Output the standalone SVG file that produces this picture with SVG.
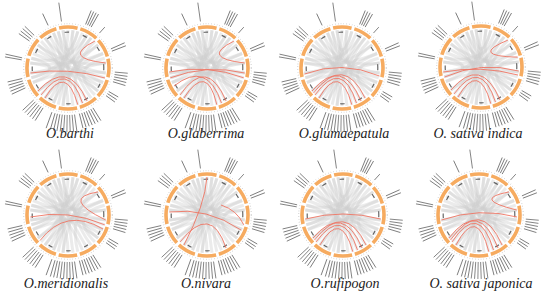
<svg xmlns="http://www.w3.org/2000/svg" xmlns:xlink="http://www.w3.org/1999/xlink" width="550" height="299" viewBox="0 0 550 299">
<style>
.ring{fill:none;stroke:#f6ab60;stroke-width:3.6;stroke-dasharray:18.61 2.86}
.tick{fill:none;stroke:#b0b0b0;stroke-width:1.2;stroke-dasharray:0.4 2.4}
.chr{fill:none;stroke:#333;stroke-opacity:0.75;stroke-width:1.2;stroke-dasharray:4.5 14.09}
.gc path{fill:none;stroke:#cfcfcf;stroke-width:3;stroke-opacity:0.42}
.lb line{stroke:#3c3c3c;stroke-width:0.8;stroke-opacity:0.75}
.red{fill:none;stroke:#ef7563;stroke-width:0.9}
.title{font-family:"Liberation Serif","Times New Roman",serif;font-style:italic;font-size:14px;fill:#222;text-anchor:middle}
</style>
<defs>
<g id="base">
<g class="gc">
<path d="M-35.1,-14.5Q0,0 36.7,9.8"/><path d="M-30.1,-23.1Q0,0 14.5,35.1"/><path d="M-23.1,-30.1Q0,0 -5,37.7"/>
<path d="M-14.5,-35.1Q0,0 -14.5,35.1"/><path d="M-5,-37.7Q0,0 5,37.7"/><path d="M5,-37.7Q0,0 -23.1,30.1"/>
<path d="M14.5,-35.1Q0,0 -35.1,14.5"/><path d="M23.1,-30.1Q0,0 -30.1,23.1"/><path d="M30.1,-23.1Q0,0 -37.7,5"/>
<path d="M35.1,-14.5Q0,0 -37.7,-5"/><path d="M37.7,-5Q0,0 -30.1,-23.1"/><path d="M37.7,5Q0,0 -23.1,-30.1"/>
<path d="M35.1,14.5Q0,0 -14.5,-35.1"/><path d="M30.1,23.1Q0,0 -5,-37.7"/><path d="M23.1,30.1Q0,0 5,-37.7"/>
<path d="M-5,37.7Q0,0 23.1,-30.1"/><path d="M-14.5,35.1Q0,0 30.1,-23.1"/><path d="M-23.1,30.1Q0,0 35.1,-14.5"/>
<path d="M-30.1,23.1Q0,0 37.7,-5"/><path d="M-35.1,14.5Q0,0 37.7,5"/><path d="M-37.7,5Q0,0 35.1,14.5"/>
<path d="M-37.7,-5Q0,0 30.1,23.1"/><path d="M-9.8,-36.7Q0,0 -9.8,36.7"/><path d="M0,-38Q0,0 -26.9,26.9"/>
<path d="M9.8,-36.7Q0,0 -36.7,9.8"/><path d="M19,-32.9Q0,0 -36.7,-9.8"/><path d="M-19,-32.9Q0,0 19,32.9"/>
<path d="M-32.9,-19Q0,0 32.9,19"/><path d="M-26.9,-26.9Q0,0 0,38"/><path d="M26.9,-26.9Q0,0 9.8,36.7"/>
<path d="M36.7,-9.8Q0,0 26.9,26.9"/><path d="M-9.8,-36.7Q0,0 9.8,-36.7"/><path d="M-36.7,9.8Q0,0 -36.7,-9.8"/>
<path d="M-19,32.9Q0,0 19,-32.9"/>
</g>
<circle class="tick" r="44.3"/>
<circle class="ring" r="41" transform="rotate(-13)"/>
<circle class="chr" r="35.8" transform="rotate(-3.6)"/>
<g class="lb">
<line x1="47" x2="66" transform="rotate(-98)"/>
<line x1="47" x2="62" transform="rotate(-68)"/><line x1="47" x2="62" transform="rotate(-65.5)"/><line x1="47" x2="62" transform="rotate(-63)"/><line x1="47" x2="62" transform="rotate(-60.5)"/>
<line x1="47" x2="55" transform="rotate(-48)"/>
<line x1="47" x2="62" transform="rotate(-24)"/><line x1="47" x2="62" transform="rotate(-21)"/>
<line x1="47" x2="60" transform="rotate(5)"/><line x1="47" x2="60" transform="rotate(8)"/><line x1="47" x2="60" transform="rotate(11)"/><line x1="47" x2="60" transform="rotate(14)"/><line x1="47" x2="60" transform="rotate(17)"/>
<line x1="47" x2="58" transform="rotate(30)"/><line x1="47" x2="58" transform="rotate(33)"/><line x1="47" x2="58" transform="rotate(36)"/>
<line x1="47" x2="62" transform="rotate(58)"/><line x1="47" x2="62" transform="rotate(61)"/><line x1="47" x2="62" transform="rotate(64)"/><line x1="47" x2="62" transform="rotate(67)"/><line x1="47" x2="62" transform="rotate(70)"/><line x1="47" x2="62" transform="rotate(73)"/><line x1="47" x2="62" transform="rotate(76)"/>
<line x1="47" x2="64" transform="rotate(82)"/><line x1="47" x2="64" transform="rotate(85)"/><line x1="47" x2="64" transform="rotate(88)"/><line x1="47" x2="64" transform="rotate(91)"/><line x1="47" x2="64" transform="rotate(94)"/><line x1="47" x2="64" transform="rotate(97)"/><line x1="47" x2="64" transform="rotate(100)"/><line x1="47" x2="64" transform="rotate(103)"/><line x1="47" x2="64" transform="rotate(106)"/><line x1="47" x2="64" transform="rotate(110)"/>
<line x1="47" x2="62" transform="rotate(122)"/><line x1="47" x2="62" transform="rotate(125)"/><line x1="47" x2="62" transform="rotate(128)"/><line x1="47" x2="62" transform="rotate(131)"/><line x1="47" x2="62" transform="rotate(134)"/><line x1="47" x2="62" transform="rotate(137)"/>
<line x1="47" x2="62" transform="rotate(155)"/><line x1="47" x2="62" transform="rotate(158)"/><line x1="47" x2="62" transform="rotate(161)"/><line x1="47" x2="62" transform="rotate(164)"/><line x1="47" x2="62" transform="rotate(167)"/>
<line x1="47" x2="64" transform="rotate(190)"/><line x1="47" x2="64" transform="rotate(192.5)"/>
<line x1="47" x2="60" transform="rotate(215)"/><line x1="47" x2="60" transform="rotate(218)"/><line x1="47" x2="60" transform="rotate(221)"/><line x1="47" x2="60" transform="rotate(224)"/>
<line x1="47" x2="60" transform="rotate(245)"/>
</g>
</g>
</defs>

<g id="plot-barthi" transform="translate(68,68)"><use href="#base"/><text class="title" x="2" y="70">O.barthi</text></g>
<g id="plot-glaberrima" transform="translate(207,68)"><use href="#base"/><text class="title" x="-1" y="70">O.glaberrima</text></g>
<g id="plot-glumaepatula" transform="translate(342,68)"><use href="#base"/><text class="title" x="2" y="70">O.glumaepatula</text></g>
<g id="plot-indica" transform="translate(481,67)"><use href="#base"/><text class="title" x="-3" y="71">O. sativa indica</text></g>
<g id="plot-meridionalis" transform="translate(68,215)"><use href="#base"/><text class="title" x="-2" y="73">O.meridionalis</text></g>
<g id="plot-nivara" transform="translate(207,215)"><use href="#base"/><text class="title" x="-1" y="73">O.nivara</text></g>
<g id="plot-rufipogon" transform="translate(343,215)"><use href="#base"/><text class="title" x="2" y="73">O.rufipogon</text></g>
<g id="plot-japonica" transform="translate(479,215)"><use href="#base"/><text class="title" x="2" y="73">O. sativa japonica</text></g>

<g id="connectors">
<g transform="translate(68,68)">
<path class="red" d="M26.9,-26.9Q-7,-10 37.7,-5"/>
<path class="red" d="M-37.5,5Q0,-1 37,10"/>
<path class="red" d="M-26.9,26.9Q0,-9 14.5,35.1"/>
<path class="red" d="M-30.1,23.1Q0,-10 19,32.9"/>
<path class="red" d="M-23.1,30.1Q-2,-5 9.8,36.7"/>
</g>
<g transform="translate(207,68)">
<path class="red" d="M26.9,-26.9Q-7,-10 37.7,-5"/>
<path class="red" d="M-37.7,4Q0,-4 36.7,9.8"/>
<path class="red" d="M-36.7,9.8Q0,-4 37.7,5"/>
<path class="red" d="M-33,18Q0,-8 14.5,35.1"/>
<path class="red" d="M-26.9,26.9Q0,-12 19,32.9"/>
<path class="red" d="M-23.1,30.1Q0,-6 9.8,36.7"/>
</g>
<g transform="translate(342,68)">
<path class="red" d="M-37.5,6Q0,-8 37.5,8"/>
<path class="red" d="M-26.9,26.9Q0,-10 14.5,35.1"/>
<path class="red" d="M-30.1,23.1Q0,-12 19,32.9"/>
<path class="red" d="M-23.1,30.1Q-2,-6 9.8,36.7"/>
<path class="red" d="M-28.5,25Q2,-14 23.1,30.1"/>
</g>
<g transform="translate(481,67)">
<path class="red" d="M26.9,-26.9Q-12,-11 36.7,-9.8"/>
<path class="red" d="M-36.5,10Q0,-6 37.7,4"/>
<path class="red" d="M-37.7,5Q0,-2 37,8"/>
<path class="red" d="M-26.9,26.9Q0,-10 14.5,35.1"/>
<path class="red" d="M-30.1,23.1Q0,-12 19,32.9"/>
<path class="red" d="M-23.1,30.1Q-2,-6 9.8,36.7"/>
</g>
<g transform="translate(68,215)">
<path class="red" d="M30.1,-23.1Q-8,-17 37.7,5"/>
<path class="red" d="M-37.7,2Q0,-6 36.7,9.8"/>
<path class="red" d="M-28,25.5Q-2,-8 35,14"/>
</g>
<g transform="translate(207,215)">
<path class="red" d="M0,-38Q-2,-10 -23.1,30.1"/>
<path class="red" d="M-37.7,-3Q0,-8 34,15"/>
<path class="red" d="M-26.9,26.9Q4,-12 19,32.9"/>
<path class="red" d="M14,-10Q30,-5 36.7,9.8"/>
</g>
<g transform="translate(343,215)">
<path class="red" d="M-37.7,4Q0,-6 37.7,4"/>
<path class="red" d="M-26.9,26.9Q0,-10 14.5,35.1"/>
<path class="red" d="M-30.1,23.1Q0,-12 19,32.9"/>
<path class="red" d="M-23.1,30.1Q-2,-6 9.8,36.7"/>
<path class="red" d="M-28.5,25Q2,-14 23.1,30.1"/>
</g>
<g transform="translate(479,215)">
<path class="red" d="M30.1,-23.1Q-8,-16 37.7,-5"/>
<path class="red" d="M-37.5,5Q0,-8 38,2"/>
<path class="red" d="M-26.9,26.9Q0,-14 14.5,35.1"/>
<path class="red" d="M-30.1,23.1Q0,-16 19,32.9"/>
<path class="red" d="M-23.1,30.1Q-2,-10 9.8,36.7"/>
<path class="red" d="M-28.5,25Q2,-18 23.1,30.1"/>
</g>
</g>
</svg>
